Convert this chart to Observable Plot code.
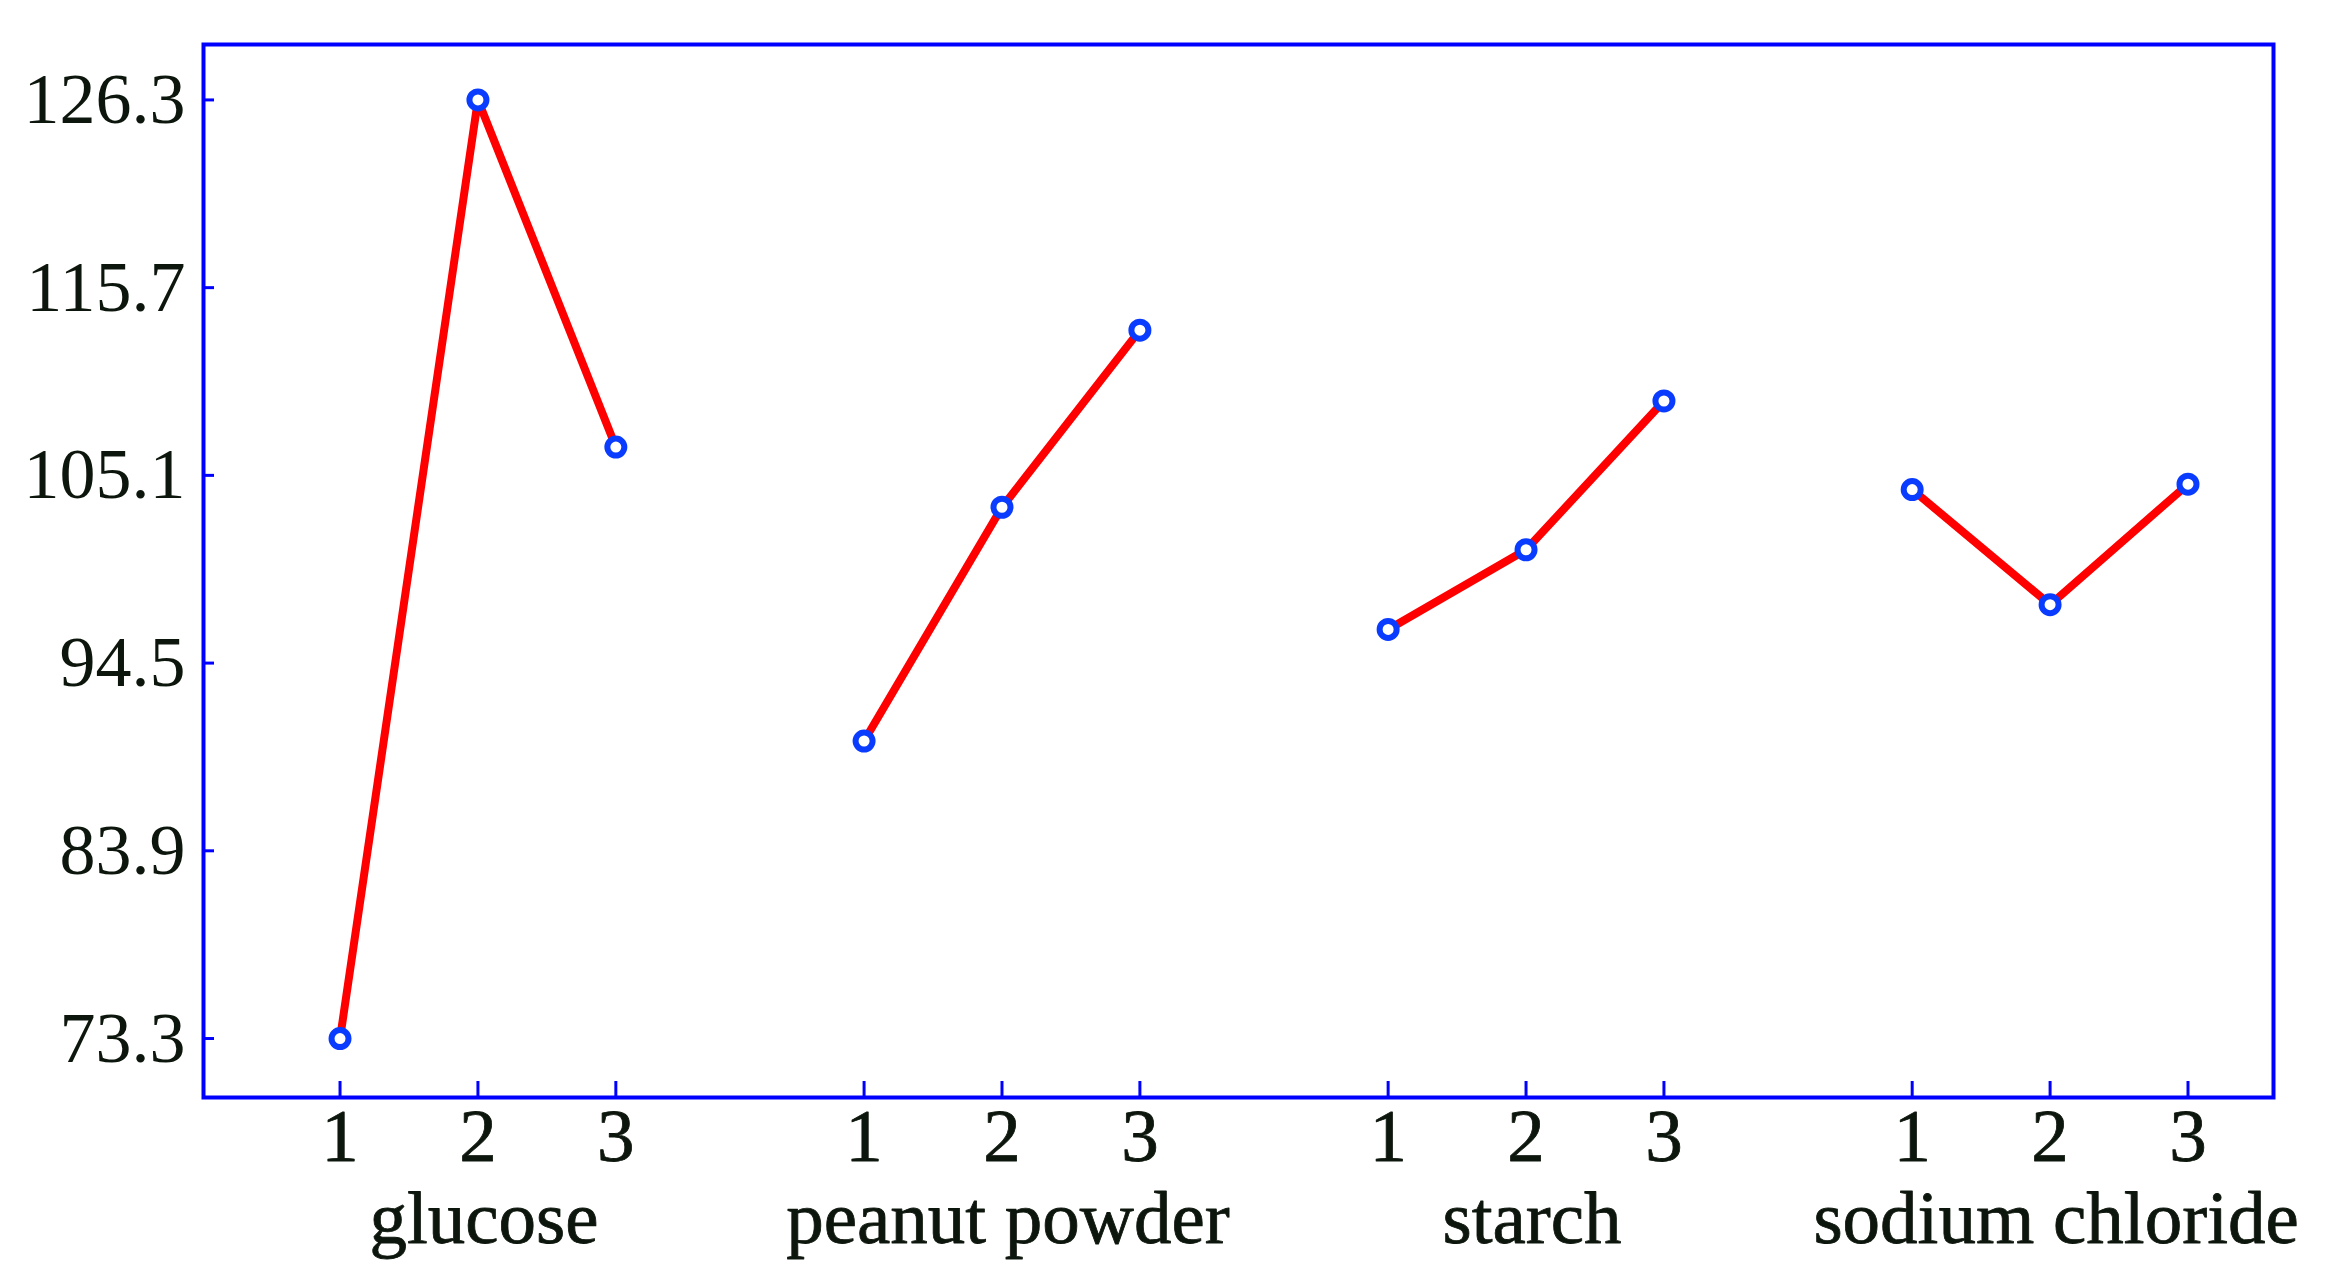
<!DOCTYPE html>
<html>
<head>
<meta charset="utf-8">
<script src="https://cdn.jsdelivr.net/npm/d3@7"></script>
<script src="https://cdn.jsdelivr.net/npm/@observablehq/plot@0.6"></script>
<style>
  html, body { margin: 0; padding: 0; background: #fff; }
  #chart { width: 2325px; height: 1287px; }
</style>
</head>
<body>
<div id="chart"></div>
<script>
// ---- data ----
const groups = ["glucose", "peanut powder", "starch", "sodium chloride"];
const levels = [1, 2, 3];
const glucose = [73.3, 126.3, 106.7];
const peanutPowder = [90.1, 103.3, 113.3];
const starch = [96.4, 100.9, 109.3];
const sodiumChloride = [104.3, 97.8, 104.6];
const yTicks = [73.3, 83.9, 94.5, 105.1, 115.7, 126.3];

// ---- table built from arrays ----
const series = [glucose, peanutPowder, starch, sodiumChloride];
const groupGap = 3.8; // spacing between factor groups in x units
const rows = [];
series.forEach((vals, g) => {
  vals.forEach((v, i) => {
    rows.push({group: groups[g], level: levels[i], pos: g * groupGap + i, value: v});
  });
});
const groupCenters = groups.map((name, g) => ({name, pos: g * groupGap + 1}));

const textColor = "#0d160d";

const chart = Plot.plot({
  width: 2325,
  height: 1287,
  marginLeft: 203,
  marginRight: 52,
  marginTop: 44,
  marginBottom: 190,
  style: {fontFamily: "'Liberation Serif', 'DejaVu Serif', serif", background: "#fff", color: textColor},
  x: {domain: [-0.99, 3 * groupGap + 2 + 0.62], axis: null, label: null},
  y: {domain: [69.97, 129.43], axis: null, label: null},
  marks: [
    // y tick labels
    Plot.axisY({ticks: yTicks, tickFormat: d => d.toFixed(1), tickSize: 0, tickPadding: 18, fontSize: 72, fill: textColor, stroke: textColor, strokeWidth: 0.8, label: null}),
    // y inward ticks
    Plot.axisY({ticks: yTicks, tickSize: -11, text: null, stroke: "#0000ff", strokeWidth: 3, label: null}),
    // x inward ticks
    Plot.axisX(rows.map(d => d.pos), {tickSize: -16, text: null, stroke: "#0000ff", strokeWidth: 3, label: null}),
    // level labels
    Plot.text(rows, {x: "pos", text: d => String(d.level), frameAnchor: "bottom", lineAnchor: "top", dy: 10, fontSize: 75, fill: textColor, stroke: textColor, strokeWidth: 0.8}),
    // group labels
    Plot.text(groupCenters, {x: "pos", text: "name", frameAnchor: "bottom", lineAnchor: "top", dy: 92, dx: 6, fontSize: 75, fill: textColor, stroke: textColor, strokeWidth: 0.8}),
    Plot.frame({stroke: "#0000ff", strokeWidth: 4}),
    Plot.line(rows, {x: "pos", y: "value", z: "group", stroke: "#ff0000", strokeWidth: 8}),
    Plot.dot(rows, {x: "pos", y: "value", r: 8.5, stroke: "#0a3cff", strokeWidth: 6, fill: "#fff"})
  ]
});
document.getElementById("chart").appendChild(chart);
</script>
</body>
</html>
